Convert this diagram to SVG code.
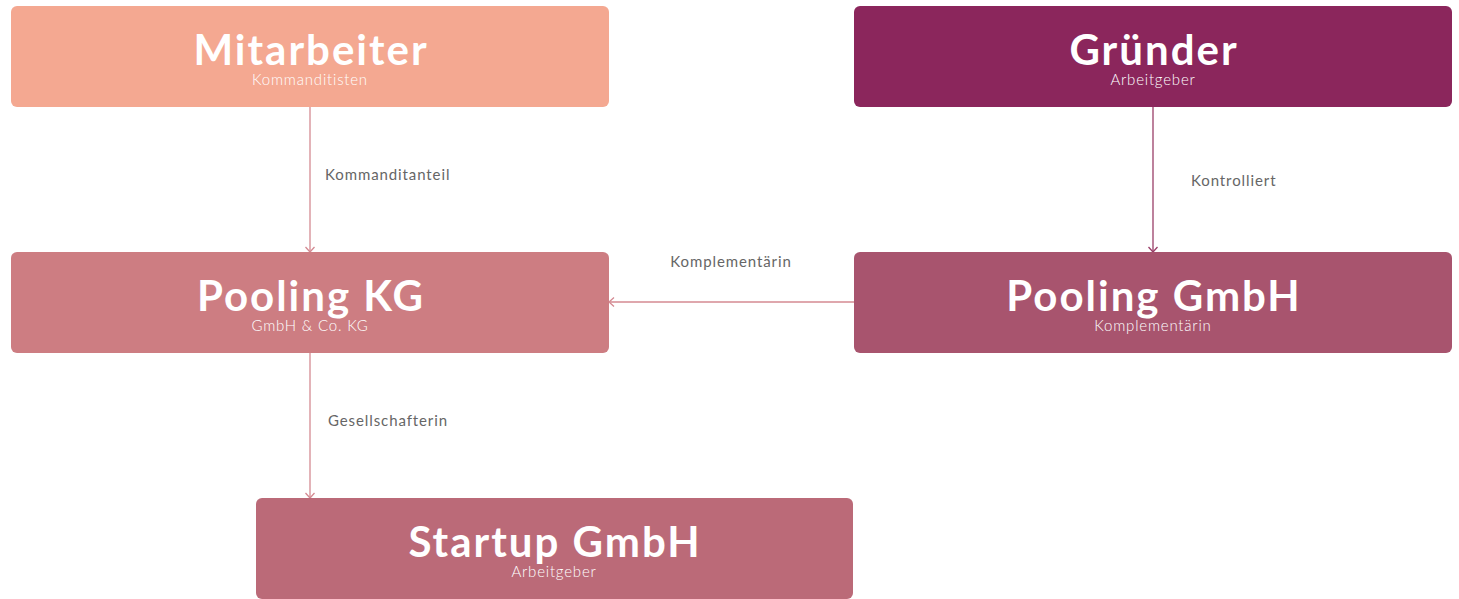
<svg xmlns="http://www.w3.org/2000/svg" width="1459" height="599" viewBox="0 0 1459 599">
<defs>
<style>
.t{font-family:"Lato","Open Sans",sans-serif;font-weight:700;font-size:42px;letter-spacing:2px;fill:#fff;text-anchor:middle}
.s{font-family:"Lato","Open Sans",sans-serif;font-weight:300;font-size:15px;letter-spacing:0.8px;fill:#fff;text-anchor:middle}
.l{font-family:"Lato","Open Sans",sans-serif;font-size:15px;letter-spacing:0.9px;fill:#666}
.e{fill:none;stroke-width:1.3}
</style>
<marker id="ap" markerWidth="12" markerHeight="12" refX="10" refY="6" orient="auto" markerUnits="userSpaceOnUse"><path d="M5,1.5 L10,6 L5,10.5" fill="none" stroke="#D48A92" stroke-width="1.3"/></marker>
<marker id="ad" markerWidth="12" markerHeight="12" refX="10" refY="6" orient="auto" markerUnits="userSpaceOnUse"><path d="M5,1.5 L10,6 L5,10.5" fill="none" stroke="#9A3E68" stroke-width="1.3"/></marker>
</defs>
<rect width="1459" height="599" fill="#fff"/>
<g id="edges">
<line class="e" x1="310" y1="107" x2="310" y2="252" stroke="#D48A92" marker-end="url(#ap)"/>
<line class="e" x1="1153" y1="107" x2="1153" y2="252" stroke="#9A3E68" marker-end="url(#ad)"/>
<line class="e" x1="854" y1="302" x2="609" y2="302" stroke="#D48A92" marker-end="url(#ap)"/>
<line class="e" x1="310" y1="353" x2="310" y2="498" stroke="#D48A92" marker-end="url(#ap)"/>
<text class="l" x="325" y="180">Kommanditanteil</text>
<text class="l" x="1191" y="186">Kontrolliert</text>
<text class="l" x="731" y="267" text-anchor="middle">Komplementärin</text>
<text class="l" x="328" y="426">Gesellschafterin</text>
</g>
<g id="mitarbeiter">
<rect x="11" y="6" width="598" height="101" rx="6" fill="#F4A891"/>
<text class="t" x="311" y="65">Mitarbeiter</text>
<text class="s" x="310" y="85">Kommanditisten</text>
</g>
<g id="gruender">
<rect x="854" y="6" width="598" height="101" rx="6" fill="#8B265C"/>
<text class="t" x="1154" y="65">Gründer</text>
<text class="s" x="1153" y="85">Arbeitgeber</text>
</g>
<g id="pooling-kg">
<rect x="11" y="252" width="598" height="101" rx="6" fill="#CD7D82"/>
<text class="t" x="311" y="311">Pooling KG</text>
<text class="s" x="310" y="331">GmbH &amp; Co. KG</text>
</g>
<g id="pooling-gmbh">
<rect x="854" y="252" width="598" height="101" rx="6" fill="#A8546E"/>
<text class="t" x="1154" y="311">Pooling GmbH</text>
<text class="s" x="1153" y="331">Komplementärin</text>
</g>
<g id="startup-gmbh">
<rect x="256" y="498" width="597" height="101" rx="6" fill="#BB6A78"/>
<text class="t" x="555" y="557">Startup GmbH</text>
<text class="s" x="554" y="577">Arbeitgeber</text>
</g>
</svg>
